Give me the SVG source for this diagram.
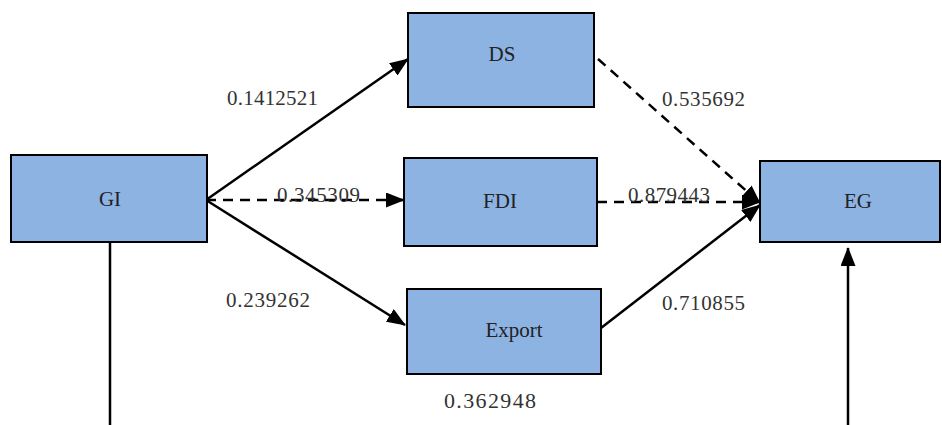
<svg xmlns="http://www.w3.org/2000/svg" width="942" height="425" viewBox="0 0 942 425">
<style>
.box{fill:#8db3e2;stroke:#000;stroke-width:2}
.lbl{font-family:"Liberation Serif",serif;font-size:21px;fill:#222;text-anchor:middle}
.num{font-family:"Liberation Serif",serif;font-size:21px;fill:#333}
.ln{stroke:#000;stroke-width:2.5;fill:none}
.dash{stroke-dasharray:10 7}
</style>
<defs>
<marker id="ah" markerUnits="userSpaceOnUse" markerWidth="19" markerHeight="15" refX="18" refY="7.5" orient="auto">
<path d="M0,0 L19,7.5 L0,15 Z" fill="#000"/>
</marker>
</defs>
<g id="connectors">
<line class="ln" x1="206" y1="200" x2="408" y2="59" marker-end="url(#ah)"/>
<line class="ln dash" x1="206" y1="200" x2="404" y2="200" marker-end="url(#ah)"/>
<line class="ln" x1="206" y1="200" x2="405" y2="325" marker-end="url(#ah)"/>
<line class="ln dash" x1="598" y1="59" x2="760" y2="203" marker-end="url(#ah)"/>
<line class="ln dash" x1="597" y1="202" x2="760" y2="202" marker-end="url(#ah)"/>
<line class="ln" x1="601" y1="328" x2="760" y2="205" marker-end="url(#ah)"/>
<line class="ln" x1="110" y1="242" x2="110" y2="425"/>
<line class="ln" x1="848" y1="425" x2="848" y2="248" marker-end="url(#ah)"/>
</g>
<g id="GI"><rect class="box" x="11" y="155" width="196" height="87"/><text class="lbl" x="110" y="206">GI</text></g>
<g id="DS"><rect class="box" x="408" y="13" width="186" height="94"/><text class="lbl" x="502" y="61">DS</text></g>
<g id="FDI"><rect class="box" x="404" y="158" width="193" height="88"/><text class="lbl" x="500" y="208">FDI</text></g>
<g id="Export"><rect class="box" x="407" y="289" width="194" height="85"/><text class="lbl" x="514" y="337">Export</text></g>
<g id="EG"><rect class="box" x="760" y="161" width="180" height="81"/><text class="lbl" x="858" y="208">EG</text></g>
<g id="labels">
<text class="num" x="227" y="105" textLength="91" lengthAdjust="spacing">0.1412521</text>
<text class="num" x="277" y="202" textLength="83" lengthAdjust="spacing">0.345309</text>
<text class="num" x="628" y="202" textLength="82" lengthAdjust="spacing">0.879443</text>
<text class="num" x="662" y="106" textLength="83" lengthAdjust="spacing">0.535692</text>
<text class="num" x="226" y="307" textLength="84" lengthAdjust="spacing">0.239262</text>
<text class="num" x="662" y="310" textLength="83" lengthAdjust="spacing">0.710855</text>
<text class="num" x="444" y="408" textLength="92" lengthAdjust="spacing" style="font-size:22px">0.362948</text>
</g>
</svg>
